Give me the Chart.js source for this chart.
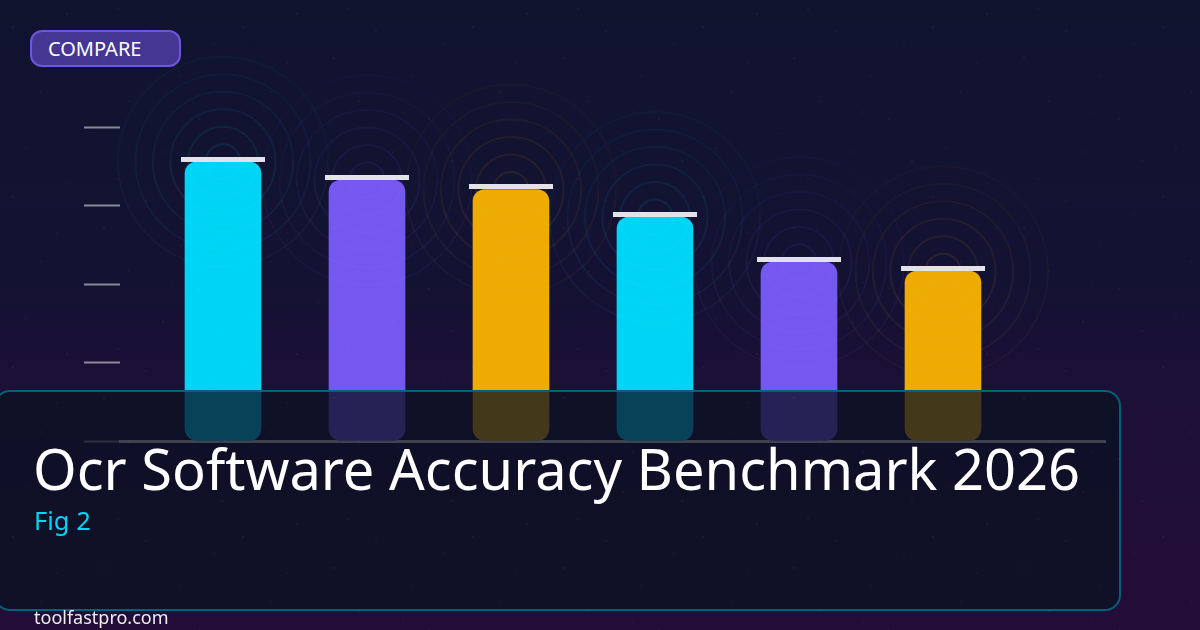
<!DOCTYPE html>
<html>
<head>
<meta charset="utf-8">
<script src="https://cdn.jsdelivr.net/npm/chart.js@4"></script>
<style>
html, body { margin: 0; padding: 0; }
body { width: 1200px; height: 630px; overflow: hidden; position: relative; font-family: "Noto Sans", sans-serif;
  background: linear-gradient(180deg, #10142f 0%, #141233 45%, #1c1036 62%, #240c38 100%); }
#wrap { position: absolute; left: 0; top: 0; width: 1200px; height: 630px; }
#badge { position: absolute; left: 30px; top: 30px; width: 147px; height: 33px; border: 2px solid #6c56e0; border-radius: 12px;
  background: #453693; color: #fff; font-size: 20px; line-height: 34px; text-indent: 16px; }
#panel { position: absolute; left: -6px; top: 390px; width: 1123px; height: 217px; border: 2px solid #05607a; border-radius: 16px;
  background: rgba(11, 18, 35, 0.75); }
#title { position: absolute; left: 33px; top: 428px; color: #fff; font-size: 56px; line-height: 80px; white-space: nowrap; }
#fig { position: absolute; left: 34px; top: 503px; color: #00d4f5; font-size: 25.5px; line-height: 34px; }
#site { position: absolute; left: 34px; top: 604px; color: #eee; font-size: 18px; line-height: 26px; }
#specks { position: absolute; left: 0; top: 0; width: 1200px; height: 630px; pointer-events: none;
  background-size: 230px 170px;
  background-image:
    radial-gradient(1.2px 1.2px at 13px 27px, rgba(255,255,255,.1), transparent),
    radial-gradient(1.2px 1.2px at 41px 92px, rgba(255,255,255,.07), transparent),
    radial-gradient(1.2px 1.2px at 67px 14px, rgba(255,255,255,.09), transparent),
    radial-gradient(1.2px 1.2px at 88px 133px, rgba(255,255,255,.06), transparent),
    radial-gradient(1.2px 1.2px at 104px 58px, rgba(255,255,255,.1), transparent),
    radial-gradient(1.2px 1.2px at 129px 101px, rgba(255,255,255,.07), transparent),
    radial-gradient(1.2px 1.2px at 146px 31px, rgba(255,255,255,.08), transparent),
    radial-gradient(1.2px 1.2px at 163px 152px, rgba(255,255,255,.09), transparent),
    radial-gradient(1.2px 1.2px at 181px 76px, rgba(255,255,255,.06), transparent),
    radial-gradient(1.2px 1.2px at 199px 119px, rgba(255,255,255,.09), transparent),
    radial-gradient(1.2px 1.2px at 214px 44px, rgba(255,255,255,.07), transparent),
    radial-gradient(1.2px 1.2px at 26px 148px, rgba(255,255,255,.08), transparent),
    radial-gradient(1.2px 1.2px at 57px 63px, rgba(255,255,255,.06), transparent),
    radial-gradient(1.2px 1.2px at 118px 9px, rgba(255,255,255,.08), transparent),
    radial-gradient(1.2px 1.2px at 173px 112px, rgba(255,255,255,.07), transparent),
    radial-gradient(1.2px 1.2px at 222px 161px, rgba(255,255,255,.09), transparent); }
</style>
</head>
<body>
<div id="wrap"><canvas id="chart" width="1200" height="630"></canvas></div>
<div id="badge">COMPARE</div>
<div id="panel"></div>
<div id="title">Ocr Software Accuracy Benchmark 2026</div>
<div id="fig">Fig 2</div>
<div id="site">toolfastpro.com</div>
<div id="specks"></div>
<script>
// values, axis has no printed numbers
const positions = [0, 1, 2, 3, 4, 5];
const accuracy = [88.9, 83.1, 80.1, 71.3, 57, 54.1];
const barColors = ['#00d4f5', '#7558f0', '#eeab04', '#00d4f5', '#7558f0', '#eeab04'];
const ringColors = ['0, 212, 245', '117, 88, 240', '238, 171, 4', '0, 212, 245', '117, 88, 240', '238, 171, 4'];
const yTicks = [0, 25, 50, 75, 100];

// rings behind each bar top
const ringsPlugin = {
    id: 'rings',
    beforeDatasetsDraw(chart) {
        const ctx = chart.ctx;
        chart.getDatasetMeta(0).data.forEach((bar, i) => {
            for (let k = 1; k <= 6; k++) {
                ctx.beginPath();
                ctx.arc(bar.x, bar.y, k * 17.5, 0, Math.PI * 2);
                ctx.strokeStyle = `rgba(${ringColors[i]}, ${0.12 - k * 0.015})`;
                ctx.lineWidth = 2;
                ctx.stroke();
            }
        });
    }
};

// white cap sitting on each bar, plus the faint ring trace that shows on the bars
const capsPlugin = {
    id: 'caps',
    afterDatasetsDraw(chart) {
        const ctx = chart.ctx;
        chart.getDatasetMeta(0).data.forEach((bar) => {
            for (let k = 1; k <= 6; k++) {
                ctx.beginPath();
                ctx.arc(bar.x, bar.y, k * 17.5, 0, Math.PI);
                ctx.strokeStyle = 'rgba(255, 255, 255, 0.015)';
                ctx.lineWidth = 2;
                ctx.stroke();
            }
            ctx.fillStyle = '#e2e2e8';
            ctx.fillRect(Math.round(bar.x) - 42, Math.round(bar.y) - 5, 84, 5);
        });
    }
};

new Chart(document.getElementById('chart'), {
    type: 'bar',
    data: {
        datasets: [{
            data: positions.map((p, i) => ({ x: p, y: accuracy[i] })),
            backgroundColor: barColors,
            barThickness: 76,
            borderRadius: 12,
            borderSkipped: false
        }]
    },
    options: {
        responsive: false,
        animation: false,
        layout: { padding: { left: 84, top: 127, right: 95, bottom: 189 } },
        plugins: { legend: { display: false }, tooltip: { enabled: false } },
        scales: {
            x: {
                type: 'linear',
                offset: false,
                min: -0.7153,
                max: 6.125,
                grid: { display: false, drawTicks: false },
                border: { color: 'rgba(255, 255, 255, 0.8)', width: 3 },
                ticks: { display: false }
            },
            y: {
                min: 0,
                max: 100,
                afterBuildTicks: (axis) => { axis.ticks = yTicks.map(v => ({ value: v })); },
                grid: { drawOnChartArea: false, tickLength: 36, tickWidth: 2, tickColor: 'rgba(255, 255, 255, 0.5)' },
                border: { display: false },
                ticks: { display: false }
            }
        }
    },
    plugins: [ringsPlugin, capsPlugin]
});
</script>
</body>
</html>
